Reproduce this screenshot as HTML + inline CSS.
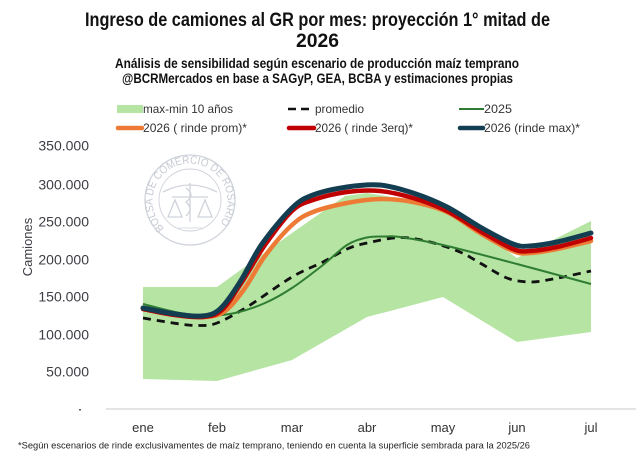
<!DOCTYPE html>
<html>
<head>
<meta charset="utf-8">
<style>
html,body{margin:0;padding:0;background:#fff;}
svg{display:block;}
</style>
</head>
<body>
<svg width="640" height="464" viewBox="0 0 640 464" xmlns="http://www.w3.org/2000/svg">
<rect width="640" height="464" fill="#ffffff"/>

<!-- Titles -->
<g font-family="'Liberation Sans', sans-serif" font-weight="bold" fill="#111">
  <text x="85" y="26" font-size="19" textLength="465" lengthAdjust="spacingAndGlyphs">Ingreso de camiones al GR por mes: proyección 1° mitad de</text>
  <text x="296" y="47" font-size="19" textLength="43" lengthAdjust="spacingAndGlyphs">2026</text>
  <text x="115" y="68" font-size="13.5" textLength="404" lengthAdjust="spacingAndGlyphs">Análisis de sensibilidad según escenario de producción maíz temprano</text>
  <text x="122" y="83" font-size="13.5" textLength="391" lengthAdjust="spacingAndGlyphs">@BCRMercados  en base a SAGyP, GEA,  BCBA y estimaciones propias</text>
</g>

<!-- Legend -->
<g font-family="'Liberation Sans', sans-serif" font-size="12" fill="#333">
  <rect x="117" y="105" width="26" height="8" fill="#b5e4a3"/>
  <text x="143" y="113" textLength="90" lengthAdjust="spacingAndGlyphs">max-min 10 años</text>
  <line x1="288" y1="109" x2="296" y2="109" stroke="#111" stroke-width="2.5"/>
  <line x1="301" y1="109" x2="309" y2="109" stroke="#111" stroke-width="2.5"/>
  <text x="315" y="113" textLength="49" lengthAdjust="spacingAndGlyphs">promedio</text>
  <line x1="459" y1="109" x2="484" y2="109" stroke="#2f7d32" stroke-width="2"/>
  <text x="484" y="113" textLength="28" lengthAdjust="spacingAndGlyphs">2025</text>

  <line x1="118" y1="128" x2="142" y2="128" stroke="#ee7b35" stroke-width="4.5" stroke-linecap="round"/>
  <text x="143" y="132" textLength="104" lengthAdjust="spacingAndGlyphs">2026 ( rinde prom)*</text>
  <line x1="289" y1="128" x2="314" y2="128" stroke="#c00000" stroke-width="4.5" stroke-linecap="round"/>
  <text x="315" y="132" textLength="98" lengthAdjust="spacingAndGlyphs">2026 ( rinde 3erq)*</text>
  <line x1="460" y1="128" x2="483" y2="128" stroke="#133e52" stroke-width="4.5" stroke-linecap="round"/>
  <text x="484" y="132" textLength="96" lengthAdjust="spacingAndGlyphs">2026 (rinde max)*</text>
</g>

<!-- Y axis labels -->
<g font-family="'Liberation Sans', sans-serif" font-size="14" fill="#3d3d45" text-anchor="end">
  <text x="89" y="150.7">350.000</text>
  <text x="89" y="189.3">300.000</text>
  <text x="89" y="226.7">250.000</text>
  <text x="89" y="264.3">200.000</text>
  <text x="89" y="301.7">150.000</text>
  <text x="89" y="339.3">100.000</text>
  <text x="89" y="376.7">50.000</text>
</g>
<rect x="79" y="409" width="2" height="1.5" fill="#555"/>
<text x="0" y="0" transform="translate(32,247) rotate(-90)" font-family="'Liberation Sans', sans-serif" font-size="13" fill="#3d3d45" text-anchor="middle">Camiones</text>

<!-- Watermark -->
<g fill="none" stroke="#cfd3da" stroke-width="1.3">
  <circle cx="190" cy="200" r="45"/>
  <circle cx="190" cy="200" r="31" stroke-width="0.9"/>
  <path d="M163,192 Q190,178 217,192" />
  <path d="M172,197 L208,197 M190,183 L190,222 M175,200 L168,217 L182,217 Z M205,200 L198,217 L212,217 Z"/>
  <path d="M186,188 Q196,195 186,202 Q194,209 186,216" />
  <path d="M178,228 L202,228" stroke-width="0.8"/>
</g>
<defs>
  <path id="wm" d="M165,229 A37.5 37.5 0 1 1 215,229"/>
</defs>
<text font-family="'Liberation Sans', sans-serif" font-size="11" fill="#c6cad2">
  <textPath href="#wm" startOffset="1" textLength="172" lengthAdjust="spacingAndGlyphs">BOLSA DE COMERCIO DE ROSARIO</textPath>
</text>

<!-- Band -->
<polygon fill="#b5e4a3" points="143,287 217,287 292,233 345,196 367,193 443,205 517,258 591,221 591,332 517,342 443,297 367,317 292,360 217,381 143,379"/>

<!-- X axis line -->
<line x1="106" y1="409" x2="636" y2="409" stroke="#dcdcdc" stroke-width="1.5"/>

<!-- Promedio dashed -->
<path class="sm" fill="none" stroke="#111" stroke-width="2.8" stroke-dasharray="8,6" stroke-linejoin="round"
 d="M143,318 L180,324 L200,325.5 L217,323 L247,307 L292,277 L323,262 L347,249 L367,243 L400,237.5 L430,242 L460,252 L480,263 L507,278 L530,282 L553,279 L591,271"/>

<!-- 2025 -->
<path class="sm" fill="none" stroke="#2f7d32" stroke-width="2" stroke-linejoin="round"
 d="M143,304 L180,313 L210,315.5 L235,313 L265,303 L292,288 L323,265 L347,245 L367,237.5 L385,236.5 L400,237 L443,245 L517,264 L591,284"/>

<!-- 2026 rinde prom (orange) -->
<path class="sm" fill="none" stroke="#ee7b35" stroke-width="4.5" stroke-linejoin="round" stroke-linecap="round"
 d="M143,309 L175,315 L205,317 L225,311 L245,288 L265,256 L292,225 L313,212 L347,203 L380,199 L413,202 L447,212 L480,233 L513,251 L530,253 L557,249 L591,241"/>

<!-- 2026 rinde 3erq (red) -->
<path class="sm" fill="none" stroke="#c00000" stroke-width="4.5" stroke-linejoin="round" stroke-linecap="round"
 d="M143,309 L175,315 L203,317 L222,310 L242,282 L265,245 L292,211 L313,200 L347,192 L380,191 L413,198 L447,211 L480,231 L513,249 L530,251 L557,247 L591,238"/>

<!-- 2026 rinde max (navy) -->
<path class="sm" fill="none" stroke="#133e52" stroke-width="5" stroke-linejoin="round" stroke-linecap="round"
 d="M143,308 L175,314 L202,316 L220,309 L240,282 L262,244 L292,208 L313,195 L347,187 L380,185 L413,193 L447,207 L480,227 L513,244 L530,246 L557,242 L591,233"/>

<!-- X labels -->
<g font-family="'Liberation Sans', sans-serif" font-size="13" fill="#333" text-anchor="middle">
  <text x="143" y="432">ene</text>
  <text x="217" y="432">feb</text>
  <text x="292" y="432">mar</text>
  <text x="367" y="432">abr</text>
  <text x="443" y="432">may</text>
  <text x="517" y="432">jun</text>
  <text x="591" y="432">jul</text>
</g>

<!-- Footnote -->
<text x="18" y="448.5" font-family="'Liberation Sans', sans-serif" font-size="9.5" fill="#222" textLength="512" lengthAdjust="spacingAndGlyphs">*Según escenarios de rinde exclusivamentes de maíz temprano, teniendo en cuenta la superficie sembrada para la 2025/26</text>
</svg>
<script>
(function(){
  var paths = document.querySelectorAll('path.sm');
  for (var i=0;i<paths.length;i++){
    var d = paths[i].getAttribute('d');
    var nums = d.match(/-?\d+(\.\d+)?/g).map(Number);
    var p = [];
    for (var k=0;k+1<nums.length;k+=2) p.push([nums[k],nums[k+1]]);
    if (p.length<3) continue;
    var s = 'M'+p[0][0]+','+p[0][1];
    var t = 0.5;
    for (var j=0;j<p.length-1;j++){
      var p0 = p[j>0?j-1:0], p1=p[j], p2=p[j+1], p3=p[j+2<p.length?j+2:p.length-1];
      var c1x = p1[0]+(p2[0]-p0[0])/6, c1y = p1[1]+(p2[1]-p0[1])/6;
      var c2x = p2[0]-(p3[0]-p1[0])/6, c2y = p2[1]-(p3[1]-p1[1])/6;
      s += ' C'+c1x.toFixed(2)+','+c1y.toFixed(2)+' '+c2x.toFixed(2)+','+c2y.toFixed(2)+' '+p2[0]+','+p2[1];
    }
    paths[i].setAttribute('d', s);
  }
})();
</script>
</body>
</html>
